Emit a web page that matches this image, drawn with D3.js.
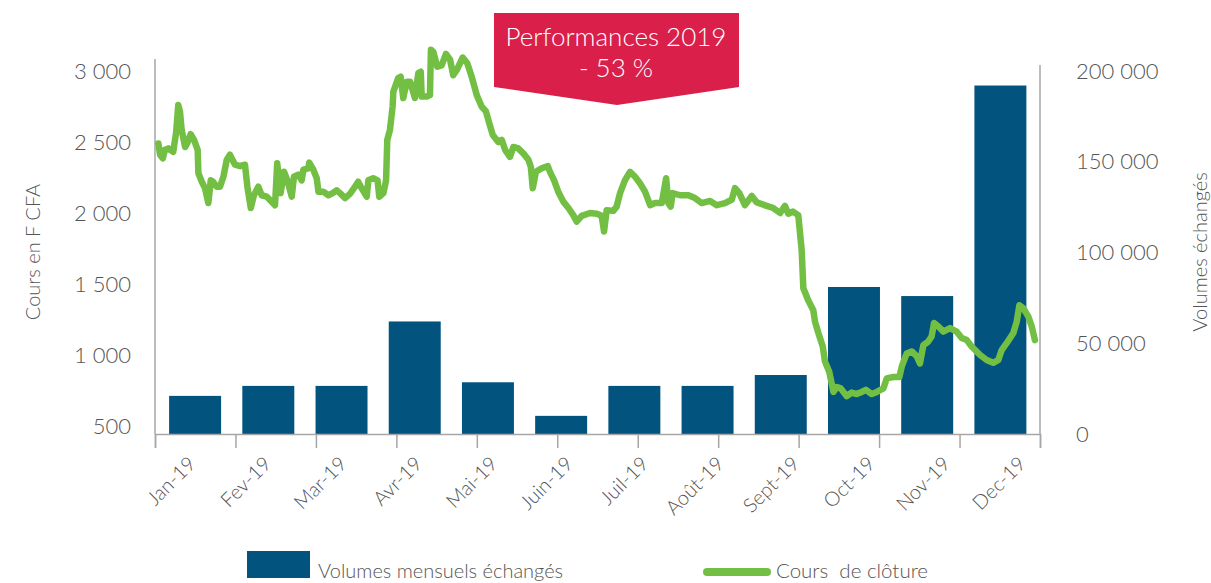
<!DOCTYPE html>
<html lang="fr">
<head>
<meta charset="UTF-8">
<title>Cours et volumes 2019</title>
<script src="https://cdn.jsdelivr.net/npm/d3@7"></script>
<style>
  * { margin: 0; padding: 0; }
  html, body { width: 1211px; height: 583px; overflow: hidden; background: #fff; }
  text { font-family: Lato, "Open Sans", sans-serif; font-weight: 300; fill: #555; }
</style>
</head>
<body>
<svg id="chart" width="1211" height="583"></svg>
<script>
// mois et volumes mensuels (axe de droite)
const mois = ["Jan-19", "Fev-19", "Mar-19", "Avr-19", "Mai-19", "Juin-19",
  "Juil-19", "Août-19", "Sept-19", "Oct-19", "Nov-19", "Dec-19"]
const volumes = [21000, 26500, 26500, 62000, 28500, 10000,
  26500, 26500, 32500, 81000, 76000, 192000]

// cours de clôture : jour de l'année et cours en F CFA (axe de gauche)
const coursJour = [1.4, 2.1, 3.2, 4.1, 5.5, 7.5, 8.7, 9.6, 10.3, 11.0, 12.4, 13.3, 14.7, 16.1, 17.6, 17.9,
  19.3, 20.6, 22.0, 23.0, 24.0, 25.4, 26.8, 28.2, 29.6, 30.9, 33.0, 35.1, 37.1, 38.1, 39.5, 40.8,
  42.6, 44.0, 46.1, 48.1, 49.5, 50.4, 51.8, 53.2, 54.6, 56.4, 57.3, 59.1, 60.5, 61.2, 63.2, 63.6,
  65.3, 66.7, 67.4, 69.4, 71.5, 73.3, 74.9, 76.3, 78.4, 80.4, 82.5, 83.8, 85.2, 87.3, 88.0, 90.0,
  91.8, 92.5, 94.2, 95.3, 95.8, 96.9, 98.0, 98.3, 100.3, 101.3, 102.4, 103.8, 105.2, 107.2, 108.6, 109.6,
  110.0, 112.1, 113.4, 113.8, 114.8, 116.4, 118.2, 120.0, 121.7, 123.0, 124.4, 126.9, 128.8, 130.6, 132.7, 134.7,
  136.5, 137.9, 139.3, 141.6, 143.0, 144.4, 146.4, 147.8, 149.8, 151.9, 154.0, 155.0, 155.8, 157.1, 159.5, 162.0,
  162.9, 164.6, 166.3, 168.4, 170.5, 172.5, 173.9, 176.0, 179.4, 182.2, 184.2, 185.2, 186.3, 189.0, 190.4, 191.8,
  193.8, 195.9, 198.0, 200.0, 202.1, 204.2, 206.2, 209.0, 210.8, 211.7, 212.7, 213.5, 216.5, 220.0, 222.7, 225.5,
  228.9, 231.7, 235.1, 237.9, 239.2, 241.0, 243.3, 246.1, 248.2, 252.3, 255.0, 257.8, 259.8, 261.2, 263.0, 265.3,
  266.7, 267.4, 269.4, 271.5, 272.2, 273.6, 275.4, 276.3, 278.1, 279.8, 281.2, 282.8, 285.3, 287.3, 289.4, 291.5,
  293.2, 295.6, 297.7, 300.4, 301.8, 304.5, 307.0, 308.0, 310.0, 312.1, 314.2, 315.5, 316.9, 318.9, 320.3, 321.3,
  323.1, 325.1, 327.9, 330.6, 332.7, 334.8, 336.8, 340.3, 343.0, 345.7, 347.8, 349.2, 351.3, 354.0, 355.4, 356.5,
  358.1, 360.2, 361.6, 362.9]
const coursPrix = [2490, 2410, 2385, 2445, 2455, 2430, 2565, 2760, 2715, 2585, 2465, 2490, 2555, 2515, 2445, 2280,
  2220, 2175, 2070, 2230, 2220, 2185, 2185, 2255, 2375, 2410, 2340, 2330, 2340, 2185, 2035, 2125,
  2185, 2125, 2115, 2080, 2055, 2350, 2140, 2290, 2230, 2115, 2255, 2270, 2230, 2305, 2315, 2355,
  2305, 2245, 2150, 2150, 2125, 2140, 2160, 2140, 2105, 2135, 2185, 2220, 2175, 2115, 2230, 2245,
  2230, 2115, 2140, 2230, 2515, 2585, 2750, 2855, 2950, 2960, 2810, 2925, 2925, 2810, 2985, 2995,
  2820, 2820, 2830, 3150, 3135, 3030, 3040, 3120, 3080, 2970, 3005, 3095, 3055, 2960, 2830, 2750,
  2715, 2630, 2550, 2500, 2515, 2445, 2395, 2465, 2455, 2420, 2375, 2325, 2175, 2290, 2315, 2330,
  2290, 2230, 2150, 2080, 2035, 1985, 1940, 1980, 2000, 1995, 1980, 1870, 2020, 2015, 2045, 2140,
  2230, 2290, 2255, 2210, 2150, 2055, 2070, 2070, 2245, 2070, 2045, 2140, 2125, 2125, 2105, 2070,
  2085, 2055, 2070, 2095, 2175, 2140, 2055, 2120, 2075, 2050, 2035, 2000, 2050, 1995, 2010, 1985,
  1740, 1470, 1385, 1315, 1235, 1155, 1060, 955, 880, 740, 775, 765, 710, 735, 725, 740,
  755, 725, 740, 765, 835, 845, 845, 920, 1010, 1025, 990, 940, 1070, 1095, 1130, 1225,
  1200, 1165, 1190, 1165, 1120, 1105, 1060, 1000, 965, 945, 965, 1035, 1085, 1155, 1235, 1350,
  1330, 1270, 1200, 1105]

const ticksCours = [500, 1000, 1500, 2000, 2500, 3000]
const ticksVolumes = [0, 50000, 100000, 150000, 200000]

const bleu = '#03537F'
const vert = '#72BF44'
const gris = '#A6A6A6'

const fmt = d3.formatLocale({ decimal: ',', thousands: ' ', grouping: [3], currency: ['', ''] }).format(',')

const svg = d3.select('#chart')

// echelles
const xBar = d3.scaleBand().domain(mois).range([158.5, 1037]).paddingInner(0.29).paddingOuter(0.145)
const xTick = d3.scalePoint().domain(mois).range([155, 1040])
const xLabel = d3.scalePoint().domain(mois).range([197, 1027])
const xJour = d3.scaleLinear().domain([0, 365]).range([155, 1040])
const yCours = d3.scaleLinear().domain([500, 3000]).range([426, 71])
const yVol = d3.scaleLinear().domain([0, 200000]).range([434, 71])

// barres des volumes
svg.append('g').selectAll('rect').data(volumes).join('rect')
  .attr('x', (d, i) => xBar(mois[i]))
  .attr('width', xBar.bandwidth())
  .attr('y', d => yVol(d))
  .attr('height', d => yVol(0) - yVol(d))
  .attr('fill', bleu)

// axe des x avec ses graduations
const gx = svg.append('g').attr('transform', `translate(0, ${yVol(0)})`)
  .call(d3.axisBottom(xTick).tickSize(14).tickFormat(''))
gx.selectAll('path, line').attr('stroke', gris).attr('stroke-width', 1.5)

svg.append('g').selectAll('text').data(mois).join('text')
  .attr('transform', d => `translate(${xLabel(d)}, 465) rotate(-45)`)
  .attr('text-anchor', 'end')
  .style('font-size', '20px')
  .text(d => d)

// axes verticaux
svg.append('line').attr('x1', 155).attr('x2', 155).attr('y1', 59).attr('y2', yVol(0))
  .attr('stroke', gris).attr('stroke-width', 1.5)
svg.append('line').attr('x1', 1040).attr('x2', 1040).attr('y1', 65).attr('y2', yVol(0))
  .attr('stroke', gris).attr('stroke-width', 1.5)

const gy = svg.append('g').attr('transform', 'translate(131, 0)')
  .call(d3.axisLeft(yCours).tickValues(ticksCours).tickSize(0).tickPadding(0).tickFormat(fmt))
const gy2 = svg.append('g').attr('transform', 'translate(1076, 0)')
  .call(d3.axisRight(yVol).tickValues(ticksVolumes).tickSize(0).tickPadding(0).tickFormat(fmt))
;[gy, gy2].forEach(g => {
  g.select('.domain').remove()
  g.selectAll('text').attr('fill', null).style('font-size', '22px').style('font-family', null)
})

// titres des axes
svg.append('text').attr('transform', 'translate(40, 252) rotate(-90)')
  .attr('text-anchor', 'middle').style('font-size', '20px').text('Cours en F CFA')
svg.append('text').attr('transform', 'translate(1207, 252) rotate(-90)')
  .attr('text-anchor', 'middle').style('font-size', '20px').text('Volumes échangés')

// courbe du cours
const ligne = d3.line().x(d => xJour(d[0])).y(d => yCours(d[1]))
svg.append('path')
  .datum(d3.zip(coursJour, coursPrix))
  .attr('d', ligne)
  .attr('fill', 'none')
  .attr('stroke', vert)
  .attr('stroke-width', 6.5)
  .attr('stroke-linejoin', 'round')
  .attr('stroke-linecap', 'round')

// bandeau performances
svg.append('polygon')
  .attr('points', [[494, 13], [739, 13], [739, 87], [617, 105], [494, 87]].join(' '))
  .attr('fill', '#D91F4A')
svg.append('text').attr('x', 616).attr('y', 46).attr('text-anchor', 'middle')
  .style('font-size', '26px').style('fill', '#fff').text('Performances 2019')
svg.append('text').attr('x', 616).attr('y', 77).attr('text-anchor', 'middle')
  .style('font-size', '26px').style('fill', '#fff').text('- 53 %')

// legende
svg.append('rect').attr('x', 247).attr('y', 551).attr('width', 63).attr('height', 27).attr('fill', bleu)
svg.append('text').attr('x', 318).attr('y', 578).style('font-size', '20px').text('Volumes mensuels échangés')
svg.append('line').attr('x1', 707).attr('x2', 767).attr('y1', 572).attr('y2', 572)
  .attr('stroke', vert).attr('stroke-width', 8).attr('stroke-linecap', 'round')
svg.append('text').attr('x', 776).attr('y', 578).attr('xml:space', 'preserve')
  .style('font-size', '20.5px').text('Cours  de clôture')
</script>
</body>
</html>
